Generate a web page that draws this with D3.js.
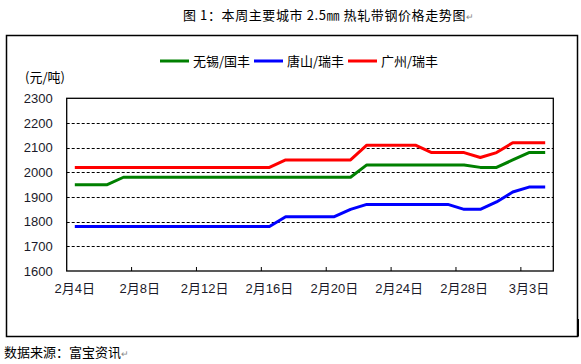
<!DOCTYPE html>
<html><head><meta charset="utf-8">
<script src="https://cdn.jsdelivr.net/npm/d3@7/dist/d3.min.js"></script>
<style>html,body{margin:0;padding:0;background:#fff;}svg{display:block;}</style>
</head><body>
<svg id="c" width="581" height="364"></svg>
<script>
const categories = ["2月4日","2月5日","2月6日","2月7日","2月8日","2月9日","2月10日","2月11日","2月12日","2月13日","2月14日","2月15日","2月16日","2月17日","2月18日","2月19日","2月20日","2月21日","2月22日","2月23日","2月24日","2月25日","2月26日","2月27日","2月28日","2月29日","3月1日","3月2日","3月3日","3月4日"];
const seriesNames = ["无锡/国丰","唐山/瑞丰","广州/瑞丰"];
const wuxi = [1950,1950,1950,1980,1980,1980,1980,1980,1980,1980,1980,1980,1980,1980,1980,1980,1980,1980,2030,2030,2030,2030,2030,2030,2030,2020,2020,2050,2080,2080];
const tangshan = [1780,1780,1780,1780,1780,1780,1780,1780,1780,1780,1780,1780,1780,1820,1820,1820,1820,1850,1870,1870,1870,1870,1870,1870,1850,1850,1880,1920,1940,1940];
const guangzhou = [2020,2020,2020,2020,2020,2020,2020,2020,2020,2020,2020,2020,2020,2050,2050,2050,2050,2050,2110,2110,2110,2110,2080,2080,2080,2060,2080,2120,2120,2120];
const yTicks = [1600,1700,1800,1900,2000,2100,2200,2300];
const xLabelEvery = 4;
const title = "图 1：本周主要城市 2.5㎜ 热轧带钢价格走势图";
const source = "数据来源：富宝资讯";
const unit = "(元/吨)";

const colors = ["#008000","#0000ff","#ff0000"];
const svg = d3.select("#c");
const L = 66.7, R = 553.3, T = 98.3, B = 271;
const numFont = "'Liberation Sans', Arial, 'Noto Sans CJK SC', sans-serif";
const cjkFont = "'Noto Sans CJK SC', 'Liberation Sans', sans-serif";

const x = d3.scaleBand().domain(categories).range([L, R]).padding(0);
const y = d3.scaleLinear().domain([1600, 2300]).range([B, T]);
const cx = d => x(d) + x.bandwidth() / 2;

// outer frame
svg.append("rect").attr("x", 6.5).attr("y", 35.5).attr("width", 571).attr("height", 301)
  .attr("fill", "none").attr("stroke", "#000").attr("stroke-width", 1.5);
svg.append("line").attr("x1", 578.5).attr("x2", 578.5).attr("y1", 319).attr("y2", 336.5)
  .attr("stroke", "#000").attr("stroke-width", 1);

// title
const tt = svg.append("text").attr("x", 183).attr("y", 20).attr("font-family", cjkFont)
  .attr("font-size", 13).attr("letter-spacing", 0.6).attr("fill", "#000");
tt.append("tspan").text(title);
tt.append("tspan").attr("fill", "#888").attr("font-size", 9).text("↵");

// source
const st = svg.append("text").attr("x", 4).attr("y", 357).attr("font-family", cjkFont)
  .attr("font-size", 13).attr("fill", "#000");
st.append("tspan").text(source);
st.append("tspan").attr("fill", "#888").attr("font-size", 9).text("↵");

// gridlines
svg.append("g").selectAll("line").data(yTicks.filter(v => v > 1600 && v < 2300)).join("line")
  .attr("x1", L).attr("x2", R).attr("y1", d => Math.round(y(d)) + 0.5).attr("y2", d => Math.round(y(d)) + 0.5)
  .attr("stroke", "#000").attr("stroke-width", 1).attr("stroke-dasharray", "3,2");

// plot frame
svg.append("rect").attr("x", L).attr("y", T).attr("width", R - L).attr("height", B - T)
  .attr("fill", "none").attr("stroke", "#000").attr("stroke-width", 1.3);

// y axis labels
const yAxis = d3.axisLeft(y).tickValues(yTicks).tickSize(0).tickPadding(14).tickFormat(d3.format("d"));
const gy = svg.append("g").attr("transform", `translate(${L},0)`).call(yAxis);
gy.select(".domain").remove();
gy.selectAll("text").attr("font-family", numFont).attr("font-size", 13).attr("fill", "#1a1a2a");

// x axis: ticks between categories every 4
const tickCats = categories.filter((d, i) => i % xLabelEvery === 0 && i > 0);
svg.append("g").selectAll("line").data(tickCats).join("line")
  .attr("x1", d => x(d)).attr("x2", d => x(d)).attr("y1", B).attr("y2", B - 4)
  .attr("stroke", "#000").attr("stroke-width", 1);
const labelCats = categories.filter((d, i) => i % xLabelEvery === 0);
const xAxis = d3.axisBottom(x).tickValues(labelCats).tickSize(0).tickPadding(13);
const gx = svg.append("g").attr("transform", `translate(0,${B})`).call(xAxis);
gx.select(".domain").remove();
gx.selectAll("text").attr("font-family", numFont).attr("font-size", 13).attr("fill", "#1a1a2a");

// unit label
svg.append("text").attr("x", 25).attr("y", 82).attr("font-family", cjkFont)
  .attr("font-size", 13).attr("fill", "#000").text(unit);

// lines
const line = d3.line().x((v, i) => cx(categories[i])).y(v => y(v));
[wuxi, tangshan, guangzhou].forEach((s, k) => {
  svg.append("path").datum(s).attr("d", line).attr("fill", "none")
    .attr("stroke", colors[k]).attr("stroke-width", 3).attr("stroke-linejoin", "round");
});

// legend
const legendX = [160, 254, 348];
seriesNames.forEach((n, k) => {
  const g = svg.append("g").attr("transform", `translate(${legendX[k]},61)`);
  g.append("line").attr("x1", 0).attr("x2", 29).attr("y1", 0).attr("y2", 0)
    .attr("stroke", colors[k]).attr("stroke-width", 3);
  g.append("text").attr("x", 33).attr("y", 4.5).attr("font-family", cjkFont)
    .attr("font-size", 13).attr("fill", "#000").text(n);
});
</script>
</body></html>
